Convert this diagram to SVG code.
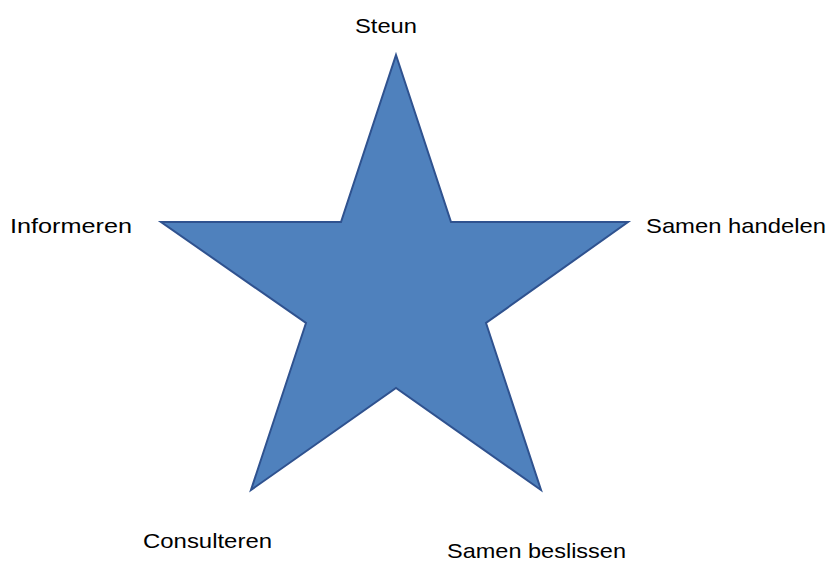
<svg xmlns="http://www.w3.org/2000/svg" width="828" height="563" viewBox="0 0 828 563">
<style>
.lbl{font-family:"Liberation Sans","Open Sans",sans-serif;font-size:21px;fill:#000}
.star{fill:#4F81BD;stroke:#2F528F;stroke-width:2;stroke-linejoin:miter}
</style>
<rect width="828" height="563" fill="#fff"/>
<g id="star">
<polygon class="star" points="396,55 451,222 628,222 486,323 541,490 396,388 251,490 306,323 161,222 341,222"/>
</g>
<g id="connectors"></g>
<g id="label-steun"><text class="lbl" x="355" y="33" textLength="62" lengthAdjust="spacingAndGlyphs">Steun</text></g>
<g id="label-informeren"><text class="lbl" x="10" y="233" textLength="122" lengthAdjust="spacingAndGlyphs">Informeren</text></g>
<g id="label-samen-handelen"><text class="lbl" x="646" y="233" textLength="180" lengthAdjust="spacingAndGlyphs">Samen handelen</text></g>
<g id="label-consulteren"><text class="lbl" x="143" y="548" textLength="129" lengthAdjust="spacingAndGlyphs">Consulteren</text></g>
<g id="label-samen-beslissen"><text class="lbl" x="447" y="558" textLength="179" lengthAdjust="spacingAndGlyphs">Samen beslissen</text></g>
</svg>
